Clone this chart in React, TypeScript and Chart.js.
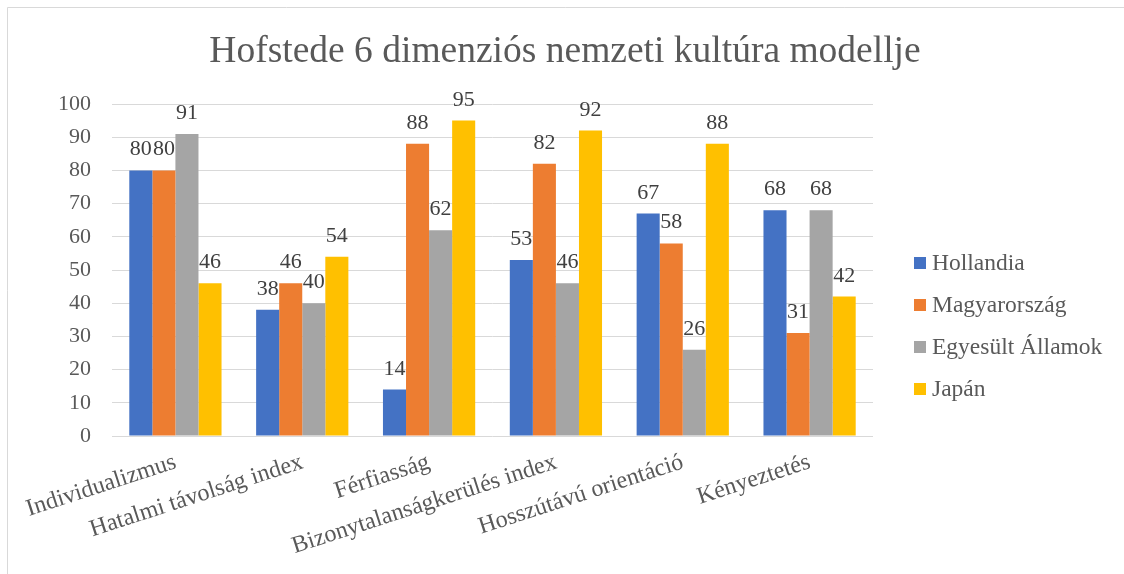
import React, { useEffect, useRef } from 'react';
import { Chart, registerables } from 'chart.js';

Chart.register(...registerables);

const chartTitle = 'Hofstede 6 dimenziós nemzeti kultúra modellje';
const categories = [
  'Individualizmus',
  'Hatalmi távolság index',
  'Férfiasság',
  'Bizonytalanságkerülés index',
  'Hosszútávú orientáció',
  'Kényeztetés',
];
const seriesNames = ['Hollandia', 'Magyarország', 'Egyesült Államok', 'Japán'];
const hollandia = [80, 38, 14, 53, 67, 68];
const magyarorszag = [80, 46, 88, 82, 58, 31];
const egyesultAllamok = [91, 40, 62, 46, 26, 68];
const japan = [46, 54, 95, 92, 88, 42];
const seriesColors = ['#4472C4', '#ED7D31', '#A5A5A5', '#FFC000'];
const yMin = 0;
const yMax = 100;
const yStep = 10;

const FONT = "'Liberation Serif', 'Times New Roman', serif";
const TEXT = '#595959';

const framePlugin = {
  id: 'frame',
  beforeDraw(chart: any) {
    const ctx = chart.ctx;
    ctx.save();
    ctx.fillStyle = '#FFFFFF';
    ctx.fillRect(0, 0, chart.width, chart.height);
    ctx.strokeStyle = '#D9D9D9';
    ctx.lineWidth = 1;
    ctx.beginPath();
    ctx.moveTo(0.5, chart.height);
    ctx.lineTo(0.5, 0.5);
    ctx.lineTo(chart.width, 0.5);
    ctx.stroke();
    ctx.restore();
  },
};

const dataLabelPlugin = {
  id: 'dataLabels',
  afterDatasetsDraw(chart: any) {
    const ctx = chart.ctx;
    ctx.save();
    ctx.font = `22px ${FONT}`;
    ctx.fillStyle = '#404040';
    ctx.textAlign = 'center';
    ctx.textBaseline = 'alphabetic';
    chart.data.datasets.forEach((ds: any, i: number) => {
      const meta = chart.getDatasetMeta(i);
      meta.data.forEach((el: any, j: number) => {
        ctx.fillText(String(ds.data[j]), el.x, el.y - 15);
      });
    });
    ctx.restore();
  },
};

const legendPlugin = {
  id: 'sideLegend',
  afterDraw(chart: any) {
    const ctx = chart.ctx;
    const area = chart.chartArea;
    const x0 = area.right + 41;
    const y0 = area.top + 159;
    ctx.save();
    ctx.font = `23.5px ${FONT}`;
    ctx.textAlign = 'left';
    ctx.textBaseline = 'middle';
    chart.data.datasets.forEach((ds: any, i: number) => {
      const y = y0 + i * 42;
      ctx.fillStyle = ds.backgroundColor;
      ctx.fillRect(x0, y - 6, 12, 12);
      ctx.fillStyle = TEXT;
      ctx.fillText(ds.label, x0 + 18, y + 1);
    });
    ctx.restore();
  },
};

export default function App() {
  const canvasRef = useRef<HTMLCanvasElement | null>(null);

  useEffect(() => {
    if (!canvasRef.current) return;
    const seriesValues = [hollandia, magyarorszag, egyesultAllamok, japan];
    const chart = new Chart(canvasRef.current, {
      type: 'bar',
      data: {
        labels: categories,
        datasets: seriesNames.map((name, i) => ({
          label: name,
          data: seriesValues[i],
          backgroundColor: seriesColors[i],
          borderWidth: 0,
          categoryPercentage: 4 / 5.5,
          barPercentage: 1,
        })),
      },
      options: {
        animation: false,
        responsive: true,
        maintainAspectRatio: false,
        layout: { padding: { left: 22, right: 23, top: 0, bottom: 0 } },
        plugins: {
          legend: { display: false },
          tooltip: { enabled: false },
          title: {
            display: true,
            text: chartTitle,
            color: TEXT,
            font: { family: FONT, size: 37.5, weight: 'normal' },
            padding: { top: 22.5, bottom: 29.5 },
          },
        },
        scales: {
          x: {
            grid: { display: false },
            border: { display: false },
            ticks: {
              color: TEXT,
              font: { family: FONT, size: 24 },
              minRotation: 18,
              maxRotation: 18,
              autoSkip: false,
              padding: 4,
            },
            afterFit(scale: any) {
              scale.height = 138;
            },
          },
          y: {
            min: yMin,
            max: yMax,
            ticks: {
              stepSize: yStep,
              color: TEXT,
              font: { family: FONT, size: 22 },
              padding: 21,
            },
            grid: { color: '#D9D9D9', lineWidth: 1, drawTicks: false },
            border: { display: false },
            afterFit(scale: any) {
              scale.width = 83;
            },
          },
          reserve: {
            type: 'linear',
            position: 'right',
            display: true,
            grid: { display: false },
            border: { display: false },
            ticks: { display: false },
            afterFit(scale: any) {
              scale.width = 228;
            },
          },
        },
      } as any,
      plugins: [framePlugin, dataLabelPlugin, legendPlugin],
    });
    return () => chart.destroy();
  }, []);

  return (
    <div
      style={{
        position: 'fixed',
        left: 7,
        top: 7,
        width: 1117,
        height: 567,
      }}
    >
      <canvas ref={canvasRef} />
    </div>
  );
}
